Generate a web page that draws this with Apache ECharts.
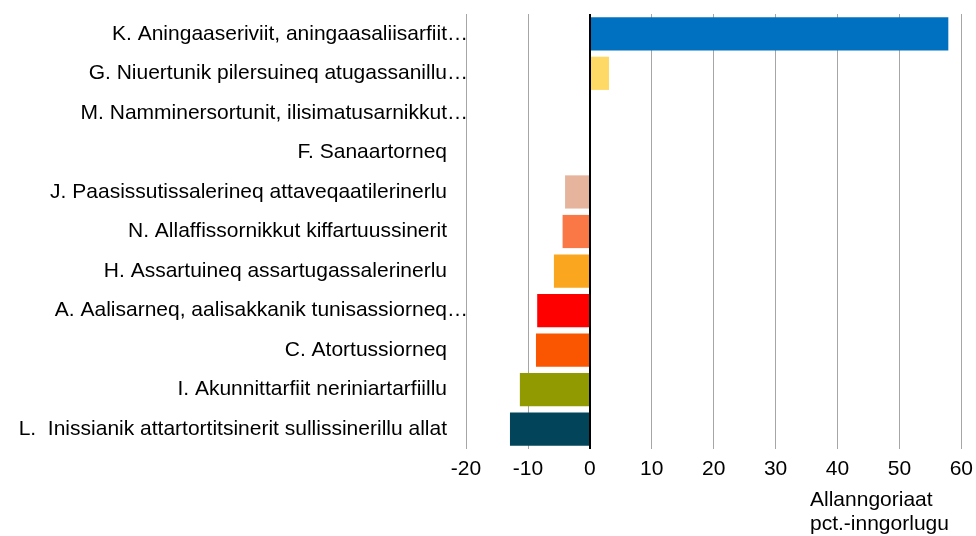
<!DOCTYPE html>
<html>
<head>
    <meta charset="utf-8">
    <title>Allanngoriaat pct.-inngorlugu</title>
    <script src="https://cdn.jsdelivr.net/npm/echarts@6.0.0/dist/echarts.min.js"></script>
    <style>
        html, body { margin: 0; padding: 0; background: #fff; }
        #chart-container { width: 976px; height: 536px; }
    </style>
</head>
<body>
<div id="chart-container"></div>
<script>
    // categories, top to bottom
    var categories = [
        'K. Aningaaseriviit, aningaasaliisarfiit…',
        'G. Niuertunik pilersuineq atugassanillu…',
        'M. Namminersortunit, ilisimatusarnikkut…',
        'F. Sanaartorneq',
        'J. Paasissutissalerineq attaveqaatilerinerlu',
        'N. Allaffissornikkut kiffartuussinerit',
        'H. Assartuineq assartugassalerinerlu',
        'A. Aalisarneq, aalisakkanik tunisassiorneq…',
        'C. Atortussiorneq',
        'I. Akunnittarfiit neriniartarfiillu',
        'L.  Inissianik attartortitsinerit sullissinerillu allat'
    ];
    var values = [57.9, 3.1, 0, 0, -4.0, -4.4, -5.8, -8.5, -8.7, -11.3, -12.9];
    var barColors = ['#0070C0', '#FFD966', '#A5A5A5', '#7F7F7F', '#E6B49C', '#F97846', '#FAA61E',
                     '#FF0000', '#FA5500', '#919A00', '#02455A'];
    var xMin = -20, xMax = 60, xStep = 10;
    var axisName = 'Allanngoriaat\npct.-inngorlugu';

    var myChart = echarts.init(document.getElementById('chart-container'));
    var font = 'Liberation Sans, Arial, sans-serif';

    var option = {
        animation: false,
        grid: { left: 466, right: 14, top: 14, bottom: 87, containLabel: false },
        xAxis: {
            type: 'value',
            min: xMin,
            max: xMax,
            interval: xStep,
            axisLine: { show: false },
            axisTick: { show: false },
            axisLabel: { color: '#000', fontSize: 21, fontFamily: font, margin: 10 },
            splitLine: { show: true, lineStyle: { color: '#A6A6A6', width: 1 } }
        },
        yAxis: {
            type: 'category',
            inverse: true,
            data: categories,
            axisLine: { show: false },
            axisTick: { show: false },
            splitLine: { show: false },
            axisLabel: {
                color: '#000',
                fontSize: 21,
                fontFamily: font,
                margin: -2,
                formatter: function (v) {
                    // truncated labels run past the others by their ellipsis
                    if (v.charAt(v.length - 1) === '…') return v;
                    return v + '{sp| }';
                },
                rich: { sp: { width: 21, fontSize: 21 } }
            }
        },
        series: [
            {
                type: 'bar',
                data: values.map(function (v, i) {
                    return { value: v, itemStyle: { color: barColors[i] } };
                }),
                barCategoryGap: '16%',
                markLine: {
                    silent: true,
                    symbol: 'none',
                    label: { show: false },
                    lineStyle: { color: '#000', width: 2, type: 'solid' },
                    data: [{ xAxis: 0 }]
                }
            }
        ],
        graphic: [
            {
                type: 'text',
                left: 810,
                top: 488,
                style: {
                    text: axisName,
                    fill: '#000',
                    fontSize: 21,
                    lineHeight: 24,
                    fontFamily: font
                }
            }
        ]
    };

    myChart.setOption(option);
</script>
</body>
</html>
